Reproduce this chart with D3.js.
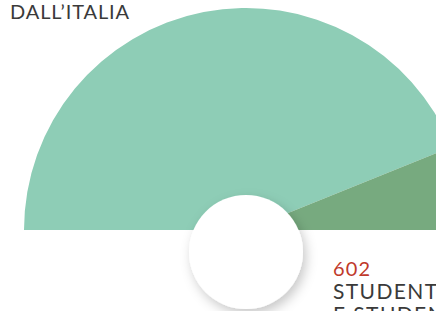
<!DOCTYPE html>
<html>
<head>
<meta charset="utf-8">
<script src="https://cdn.jsdelivr.net/npm/d3@7"></script>
<style>
  body { margin: 0; background: #fff; }
  svg { display: block; }
</style>
</head>
<body>
<div id="chart"></div>
<script>
const width = 436
const height = 311

// data
const categories = ["Dall'Italia", "Dall'estero"]
const values = [4330, 602]
const colors = ["#8ecdb6", "#77aa7f"]
const labelValue = "602"
const labelLines = ["STUDENTI", "E STUDENTESSE"]

const svg = d3.select("div#chart").append("svg").attr("width", width).attr("height", height)

const defs = svg.append("defs")
const shadow = defs.append("filter").attr("id", "shadow")
    .attr("x", "-40%").attr("y", "-40%").attr("width", "180%").attr("height", "180%")
shadow.append("feDropShadow")
    .attr("dx", 3).attr("dy", 5).attr("stdDeviation", 6)
    .attr("flood-color", "#000").attr("flood-opacity", 0.22)

const cx = 246
const cy = 230
const radius = 222

const pie = d3.pie().sort(null)
    .startAngle(-Math.PI / 2).endAngle(Math.PI / 2)
const arc = d3.arc().innerRadius(0).outerRadius(radius)

const data = pie(values)

const chartGroup = svg.append("g").attr("transform", `translate(${cx}, ${cy})`)

chartGroup.selectAll("path").data(data)
    .enter()
    .append("path")
    .attr("d", arc)
    .attr("fill", (d, i) => colors[i])

// white centre disc
svg.append("circle")
    .attr("cx", cx)
    .attr("cy", 252)
    .attr("r", 57)
    .attr("fill", "#fff")
    .attr("filter", "url(#shadow)")

// title
svg.append("text")
    .attr("x", 10)
    .attr("y", 19)
    .attr("font-family", "Lato, sans-serif")
    .attr("font-size", 20)
    .attr("letter-spacing", 0.9)
    .attr("fill", "#3a3a3a")
    .text(categories[0].toUpperCase().replace("'", "\u2019"))

// label
const label = svg.append("g").attr("transform", "translate(333, 276)")
label.append("text")
    .attr("font-family", "Lato, sans-serif")
    .attr("font-size", 20)
    .attr("letter-spacing", 1.2)
    .attr("fill", "#c0392b")
    .text(labelValue)
label.selectAll("text.line").data(labelLines)
    .enter()
    .append("text")
    .attr("class", "line")
    .attr("y", (d, i) => 23 + i * 23)
    .attr("font-family", "Lato, sans-serif")
    .attr("font-size", 21)
    .attr("letter-spacing", 1.4)
    .attr("fill", "#3a3a3a")
    .text(d => d)
</script>
</body>
</html>
